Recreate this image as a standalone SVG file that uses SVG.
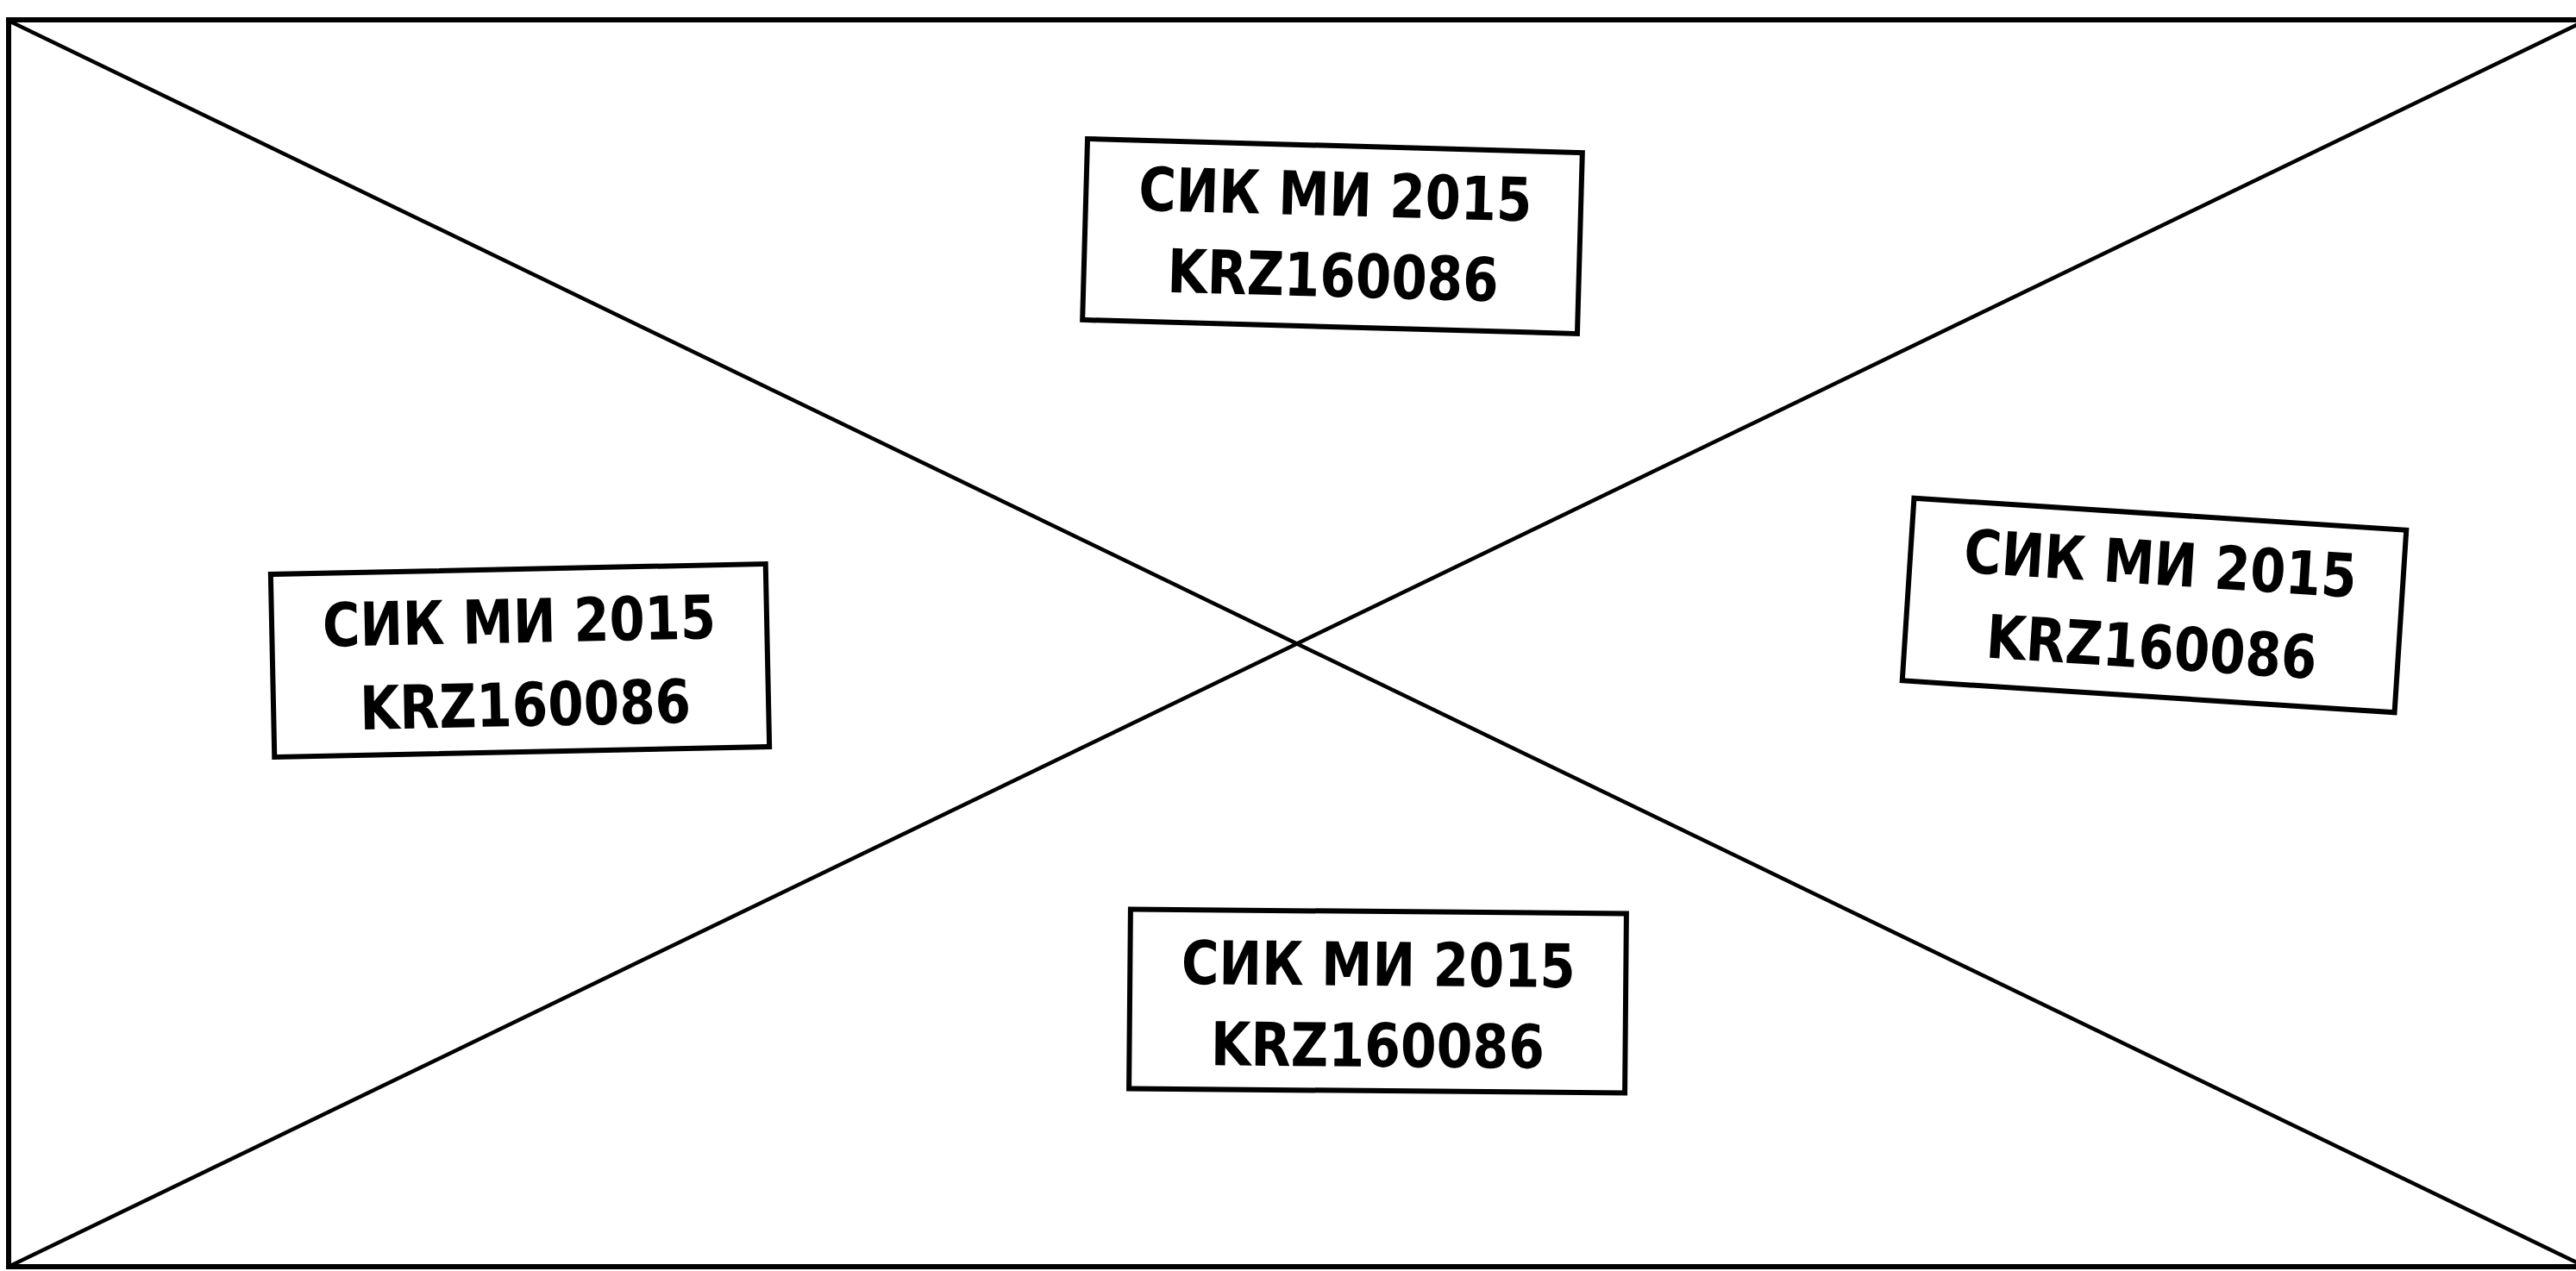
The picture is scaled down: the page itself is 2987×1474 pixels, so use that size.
<svg xmlns="http://www.w3.org/2000/svg" width="2987" height="1474" viewBox="0 0 2987 1474">
<style>
.frame{fill:none;stroke:#000;stroke-width:6}
.diag{stroke:#000;stroke-width:4.5;fill:none}
.box{fill:#fff;stroke:#000;stroke-width:6}
.lbl{font-family:"DejaVu Sans","Liberation Sans",sans-serif;font-weight:bold;font-size:70px;fill:#000;text-anchor:middle}
</style>
<rect width="2987" height="1474" fill="#fff"/>
<rect class="frame" x="10" y="23" width="2986" height="1446"/>
<g id="connectors">
<line class="diag" x1="12" y1="25" x2="2996" y2="1468"/>
<line class="diag" x1="12" y1="1468" x2="2996" y2="25"/>
</g>
<g id="stamp-top" transform="translate(1545,274) rotate(1.6)">
<rect class="box" x="-287" y="-105" width="574" height="210"/>
<text class="lbl" x="2" y="-24" textLength="456" lengthAdjust="spacingAndGlyphs">СИК МИ 2015</text>
<text class="lbl" x="2" y="70" textLength="384" lengthAdjust="spacingAndGlyphs">KRZ160086</text>
</g>
<g id="stamp-left" transform="translate(603,766) rotate(-1.2)">
<rect class="box" x="-287" y="-106" width="574" height="212"/>
<text class="lbl" x="0" y="-21" textLength="456" lengthAdjust="spacingAndGlyphs">СИК МИ 2015</text>
<text class="lbl" x="5" y="76" textLength="384" lengthAdjust="spacingAndGlyphs">KRZ160086</text>
</g>
<g id="stamp-right" transform="translate(2498,702) rotate(3.7)">
<rect class="box" x="-286" y="-106" width="572" height="212"/>
<text class="lbl" x="4" y="-24" textLength="456" lengthAdjust="spacingAndGlyphs">СИК МИ 2015</text>
<text class="lbl" x="0" y="73" textLength="384" lengthAdjust="spacingAndGlyphs">KRZ160086</text>
</g>
<g id="stamp-bottom" transform="translate(1597,1161) rotate(0.5)">
<rect class="box" x="-287" y="-104" width="575" height="208"/>
<text class="lbl" x="1" y="-18" textLength="457" lengthAdjust="spacingAndGlyphs">СИК МИ 2015</text>
<text class="lbl" x="1" y="76" textLength="387" lengthAdjust="spacingAndGlyphs">KRZ160086</text>
</g>
</svg>
